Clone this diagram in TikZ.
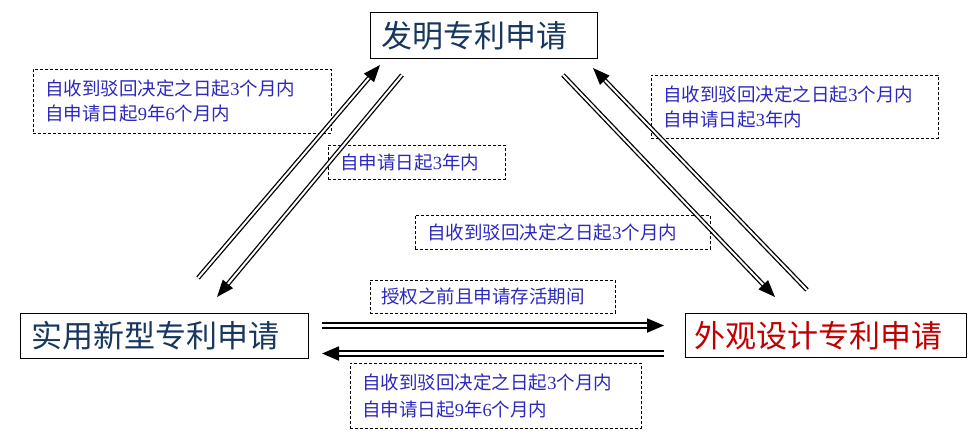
\documentclass[tikz,border=0pt]{standalone}
\usepackage{fontspec}
\setmainfont{Liberation Serif}
\newfontfamily\cjk{Noto Sans CJK SC}
\usetikzlibrary{arrows.meta}
\definecolor{titleblue}{RGB}{23,55,94}
\definecolor{titlered}{RGB}{192,0,0}
\definecolor{labelblue}{RGB}{44,40,190}
\tikzset{
  bigbox/.style={draw, line width=1pt, inner xsep=11pt, inner ysep=0pt, align=left,
    font=\cjk\fontsize{31}{36}\selectfont, text=titleblue, anchor=north west},
  lblbox/.style={draw, dashed, dash pattern=on 3pt off 2pt, line width=0.8pt,
    inner xsep=12pt, inner ysep=0pt, align=left, anchor=north west,
    font=\fontsize{18.5}{25}\selectfont, text=labelblue},
  diagarrow/.style={double, double distance=2pt, line width=1.3pt,
    -{Triangle[length=17pt,width=13pt]}},
  horarrow/.style={double, double distance=2.5pt, line width=1.8pt,
    -{Triangle[length=17pt,width=14pt]}}
}
\newcommand{\cn}[1]{{\cjk #1}}
\begin{document}
\begin{tikzpicture}[x=1pt,y=-1pt]
\useasboundingbox (0,0) rectangle (980,434);
% main boxes
\node[bigbox, minimum width=227pt, minimum height=46pt, text width=205pt] (fm) at (370,12) {发明专利申请};
\node[bigbox, minimum width=288pt, minimum height=45pt, text width=266pt, inner xsep=10pt] (sy) at (20,313) {实用新型专利申请};
\node[bigbox, minimum width=281pt, minimum height=44pt, text width=263pt, inner xsep=9pt, text=titlered] (wg) at (685,313) {外观设计专利申请};
% label boxes
\node[lblbox, minimum width=298pt, minimum height=64pt, text width=274pt] (la) at (33,69)
  {\cn{自收到驳回决定之日起}3\cn{个月内}\\\cn{自申请日起}9\cn{年}6\cn{个月内}};
\node[lblbox, minimum width=177pt, minimum height=34pt, text width=153pt] (lb) at (328,145)
  {\cn{自申请日起}3\cn{年内}};
\node[lblbox, minimum width=287pt, minimum height=63pt, text width=263pt] (lc) at (651,75)
  {\cn{自收到驳回决定之日起}3\cn{个月内}\\\cn{自申请日起}3\cn{年内}};
\node[lblbox, minimum width=295pt, minimum height=34pt, text width=271pt] (ld) at (415,215)
  {\cn{自收到驳回决定之日起}3\cn{个月内}};
\node[lblbox, minimum width=245pt, minimum height=33pt, text width=223pt, inner xsep=11pt] (le) at (370,280)
  {\cn{授权之前且申请存活期间}};
\node[lblbox, minimum width=291pt, minimum height=65pt, text width=267pt, font=\fontsize{18.5}{27}\selectfont] (lf) at (350,363)
  {\cn{自收到驳回决定之日起}3\cn{个月内}\\\cn{自申请日起}9\cn{年}6\cn{个月内}};
% arrow end coordinates
\coordinate (a1s) at (198,278);
\coordinate (a1e) at (380,65);
\coordinate (a2s) at (402,75);
\coordinate (a2e) at (217,297);
\coordinate (a3s) at (563,75);
\coordinate (a3e) at (775,297);
\coordinate (a4s) at (807,290);
\coordinate (a4e) at (593,68);
\coordinate (h1s) at (322,325.5);
\coordinate (h1e) at (664,325.5);
\coordinate (h2s) at (664,353.5);
\coordinate (h2e) at (322,353.5);
% arrows
\draw[diagarrow] (a1s) -- (a1e);
\draw[diagarrow] (a2s) -- (a2e);
\draw[diagarrow] (a3s) -- (a3e);
\draw[diagarrow] (a4s) -- (a4e);
\draw[horarrow] (h1s) -- (h1e);
\draw[horarrow] (h2s) -- (h2e);
\end{tikzpicture}
\end{document}
